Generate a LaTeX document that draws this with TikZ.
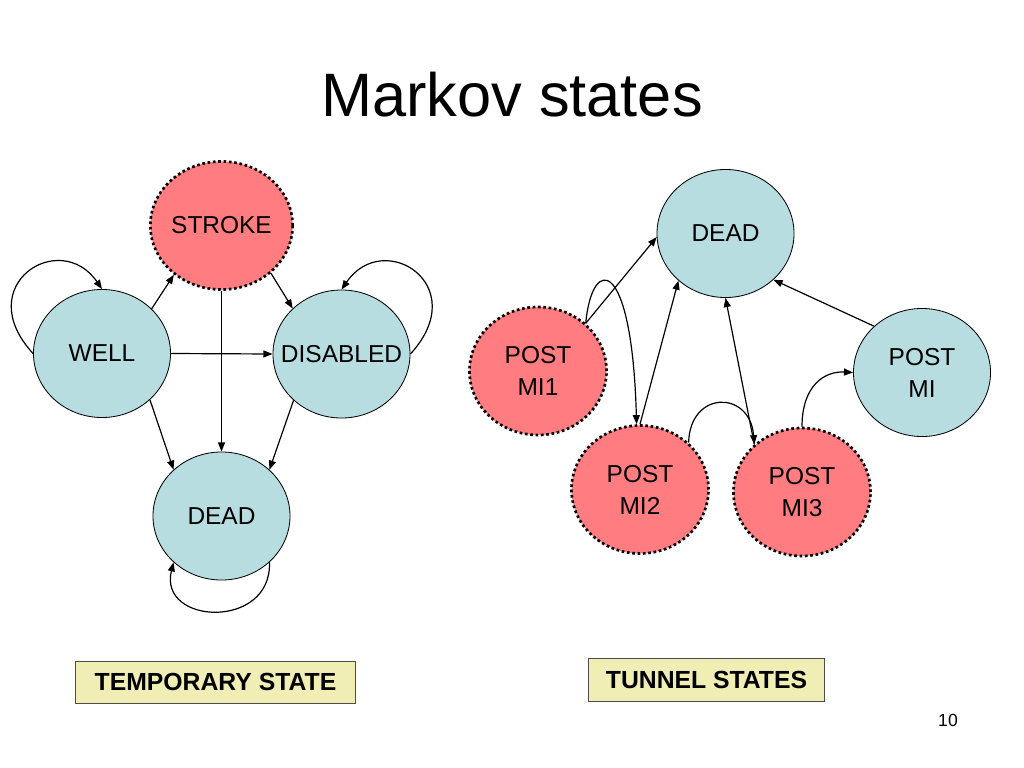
\documentclass[tikz,border=0pt]{standalone}
\usepackage{fontspec}
\setmainfont{Liberation Sans}
\usepackage{xcolor}
\usepackage{tikz}
\usetikzlibrary{arrows.meta,shapes.geometric}
\definecolor{stateblue}{HTML}{B7DDE1}
\definecolor{statepink}{HTML}{FF7C80}
\definecolor{notefill}{HTML}{F0EEB4}

\begin{document}
\begin{tikzpicture}
  [
    x=0.025cm,y=-0.025cm,
    state/.style={ellipse,draw=black,fill=stateblue,line width=0.6pt,inner sep=0pt,minimum width=3.425cm,minimum height=3.2cm,align=center,font=\fontsize{17.4}{22.7}\selectfont},
    tunnel/.style={state,fill=statepink,line width=1.9pt,dash pattern=on 1.9pt off 1.9pt},
    trans/.style={-{Triangle[length=6.5pt,width=5pt]},line width=0.85pt},
    note/.style={rectangle,draw=black!70,fill=notefill,line width=0.7pt,inner sep=0pt,font=\fontsize{17.6}{20}\selectfont\bfseries}
  ]
  \useasboundingbox (0,0) rectangle (1024,768);
  \node[anchor=base,font=\fontsize{43.6}{50}\selectfont] at (512,117) (title) {Markov states};

  \node[tunnel] at (221.5,225.5) (stroke) {STROKE};
  \node[state] at (102,353.5) (well) {WELL};
  \node[state] at (341.5,354) (disabled) {\makebox[0pt]{DISABLED}};
  \node[state] at (221.5,516) (deadl) {DEAD};

  \node[state] at (725.5,233.5) (deadr) {DEAD};
  \node[tunnel] at (538,371) (mi1) {POST\\MI1};
  \node[tunnel] at (640,489.5) (mi2) {POST\\MI2};
  \node[tunnel] at (802,492) (mi3) {POST\\MI3};
  \node[state] at (922,372.5) (postmi) {POST\\MI};

  \draw[trans] (well.42) -- (stroke.226);
  \draw[trans] (stroke.316) -- (disabled.137);
  \draw[trans] (well.east) -- (disabled.west);
  \draw[trans] (stroke.south) -- (deadl.north);
  \draw[trans] (well.316) -- (deadl.136);
  \draw[trans] (disabled.224) -- (deadl.44);
  \draw[trans] (well.west) .. controls (-30,285) and (60,228) .. (well.north);
  \draw[trans] (disabled.east) .. controls (473.5,285) and (383.5,228) .. (disabled.north);
  \draw[trans] (deadl.316) .. controls (272,630) and (158,625) .. (deadl.224);

  \draw[trans] (mi1.45) -- (deadr.183);
  \draw[trans] (mi1.45) .. controls (592,255) and (632,255) .. (mi2.93);
  \draw[trans] (mi2.north) -- (deadr.225);
  \draw[trans] (mi2.44) .. controls (690,390) and (750,390) .. (mi3.135);
  \draw[trans] (mi3.135) -- (deadr.south);
  \draw[trans] (mi3.north) .. controls (802,385) and (825,371) .. (postmi.west);
  \draw[trans] (postmi.136) -- (deadr.316);

  \node[note,minimum width=6.975cm,minimum height=1.05cm] at (215.5,682) (temporary) {TEMPORARY STATE};
  \node[note,minimum width=5.875cm,minimum height=1.075cm] at (706.5,679.5) (tunnelnote) {TUNNEL STATES};
  \node[anchor=base,font=\fontsize{12.5}{14}\selectfont] at (948,726) (pagenum) {10};
\end{tikzpicture}
\end{document}
